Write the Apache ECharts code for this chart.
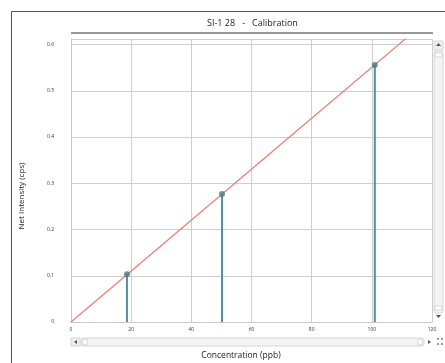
<!DOCTYPE html>
<html>
<head>
<meta charset="utf-8">
<script src="https://cdn.jsdelivr.net/npm/echarts@6/dist/echarts.min.js"></script>
<style>
html,body{margin:0;padding:0;background:#fff;}
#chart{width:445px;height:363px;}
</style>
</head>
<body>
<div id="chart"></div>
<script>
// calibration standards (ppb, cps)
var stdConc = [18.6, 50.2, 101.0];
var stdIntensity = [0.103, 0.277, 0.556];
// fitted calibration line end points
var fitConc = [0, 120];
var fitIntensity = [0, 0.661];
var xTicks = [0, 20, 40, 60, 80, 100, 120];
var yTicks = [0, 0.1, 0.2, 0.3, 0.4, 0.5, 0.6];

var chart = echarts.init(document.getElementById('chart'));

var points = stdConc.map(function (c, i) { return [c, stdIntensity[i]]; });
var fitData = fitConc.map(function (c, i) { return [c, fitIntensity[i]]; });

var font = '"Open Sans", "Noto Sans", sans-serif';
var barGray = '#d6d6d6';

var option = {
    animation: false,
    backgroundColor: '#fff',
    grid: { left: 71, right: 13, top: 39, bottom: 41 },
    xAxis: {
        type: 'value',
        min: 0, max: 120, interval: 20,
        axisLine: { show: true, lineStyle: { color: '#c8c8c8' } },
        axisTick: { show: false },
        splitLine: { show: true, lineStyle: { color: '#cfcfcf', width: 1 } },
        axisLabel: {
            fontSize: 5, color: '#333', fontFamily: font, margin: 5,
            formatter: function (v) { return xTicks.indexOf(v) >= 0 ? String(v) : ''; }
        }
    },
    yAxis: {
        type: 'value',
        min: 0, max: 0.612, interval: 0.1,
        axisLine: { show: true, lineStyle: { color: '#c8c8c8' } },
        axisTick: { show: false },
        splitLine: { show: true, lineStyle: { color: '#cfcfcf', width: 1 } },
        axisLabel: {
            fontSize: 5, color: '#333', fontFamily: font, margin: 17,
            formatter: function (v) {
                for (var i = 0; i < yTicks.length; i++) {
                    if (Math.abs(v - yTicks[i]) < 1e-6) return String(yTicks[i]);
                }
                return '';
            }
        }
    },
    series: [{
        name: 'stems',
        type: 'custom',
        renderItem: function (params, api) {
            var top = api.coord([api.value(0), api.value(1)]);
            var bot = api.coord([api.value(0), 0]);
            return {
                type: 'line',
                shape: { x1: top[0], y1: top[1], x2: bot[0], y2: bot[1] },
                style: { stroke: '#4f93a3', lineWidth: 2 }
            };
        },
        data: points,
        z: 3
    }, {
        name: 'fit',
        type: 'line',
        data: fitData,
        showSymbol: false,
        clip: true,
        lineStyle: { color: '#ec7a72', width: 1.2 },
        z: 4
    }, {
        name: 'standards',
        type: 'scatter',
        data: points,
        symbolSize: 6,
        itemStyle: { color: '#4e7884' },
        z: 5
    }],
    graphic: [
        // outer frame
        { type: 'line', shape: { x1: 11.5, y1: 11.5, x2: 445, y2: 11.5 }, style: { stroke: '#555', lineWidth: 1 } },
        { type: 'line', shape: { x1: 11.5, y1: 11.5, x2: 11.5, y2: 363 }, style: { stroke: '#555', lineWidth: 1 } },
        // title
        { type: 'text', left: 'center', top: 19, style: { text: 'SI-1 28   -   Calibration', fontSize: 9, fill: '#222', fontFamily: font, x: 0 }, left: 207 },
        { type: 'rect', shape: { x: 71, y: 32, width: 362, height: 2 }, style: { fill: '#999' } },
        // axis names
        { type: 'text', x: 22, y: 196, rotation: Math.PI / 2, style: { text: 'Net Intensity (cps)', fontSize: 8, fill: '#222', fontFamily: font, align: 'center', verticalAlign: 'middle' } },
        { type: 'text', x: 241, y: 356, style: { text: 'Concentration (ppb)', fontSize: 8.5, fill: '#222', fontFamily: font, align: 'center', verticalAlign: 'middle' } },
        // horizontal scroll bar
        { type: 'rect', shape: { x: 71, y: 338, width: 9, height: 8 }, style: { fill: '#eeeeee', stroke: barGray } },
        { type: 'polygon', shape: { points: [[74, 342], [77, 340], [77, 344]] }, style: { fill: '#555' } },
        { type: 'rect', shape: { x: 81, y: 338, width: 343, height: 8, r: 2 }, style: { fill: '#f4f4f4', stroke: barGray } },
        { type: 'rect', shape: { x: 83, y: 339, width: 4, height: 6 }, style: { fill: '#fff', stroke: barGray } },
        { type: 'rect', shape: { x: 418, y: 339, width: 4, height: 6 }, style: { fill: '#fff', stroke: barGray } },
        { type: 'polygon', shape: { points: [[428, 340], [431, 342], [428, 344]] }, style: { fill: '#555' } },
        // corner dots
        { type: 'rect', shape: { x: 437, y: 338, width: 2, height: 2 }, style: { fill: '#999' } },
        { type: 'rect', shape: { x: 441, y: 338, width: 2, height: 2 }, style: { fill: '#999' } },
        { type: 'rect', shape: { x: 437, y: 343, width: 2, height: 2 }, style: { fill: '#999' } },
        { type: 'rect', shape: { x: 441, y: 343, width: 2, height: 2 }, style: { fill: '#999' } },
        // vertical scroll bar
        { type: 'rect', shape: { x: 434, y: 41, width: 9, height: 9 }, style: { fill: '#eeeeee', stroke: barGray } },
        { type: 'polygon', shape: { points: [[436, 46], [438.5, 43], [441, 46]] }, style: { fill: '#555' } },
        { type: 'rect', shape: { x: 434, y: 51, width: 9, height: 262, r: 2 }, style: { fill: '#f4f4f4', stroke: barGray } },
        { type: 'rect', shape: { x: 435, y: 53, width: 7, height: 4 }, style: { fill: '#fff', stroke: barGray } },
        { type: 'rect', shape: { x: 435, y: 306, width: 7, height: 4 }, style: { fill: '#fff', stroke: barGray } },
        { type: 'polygon', shape: { points: [[436, 315], [441, 315], [438.5, 318]] }, style: { fill: '#555' } }
    ]
};

chart.setOption(option);
window.onresize = chart.resize;
</script>
</body>
</html>
